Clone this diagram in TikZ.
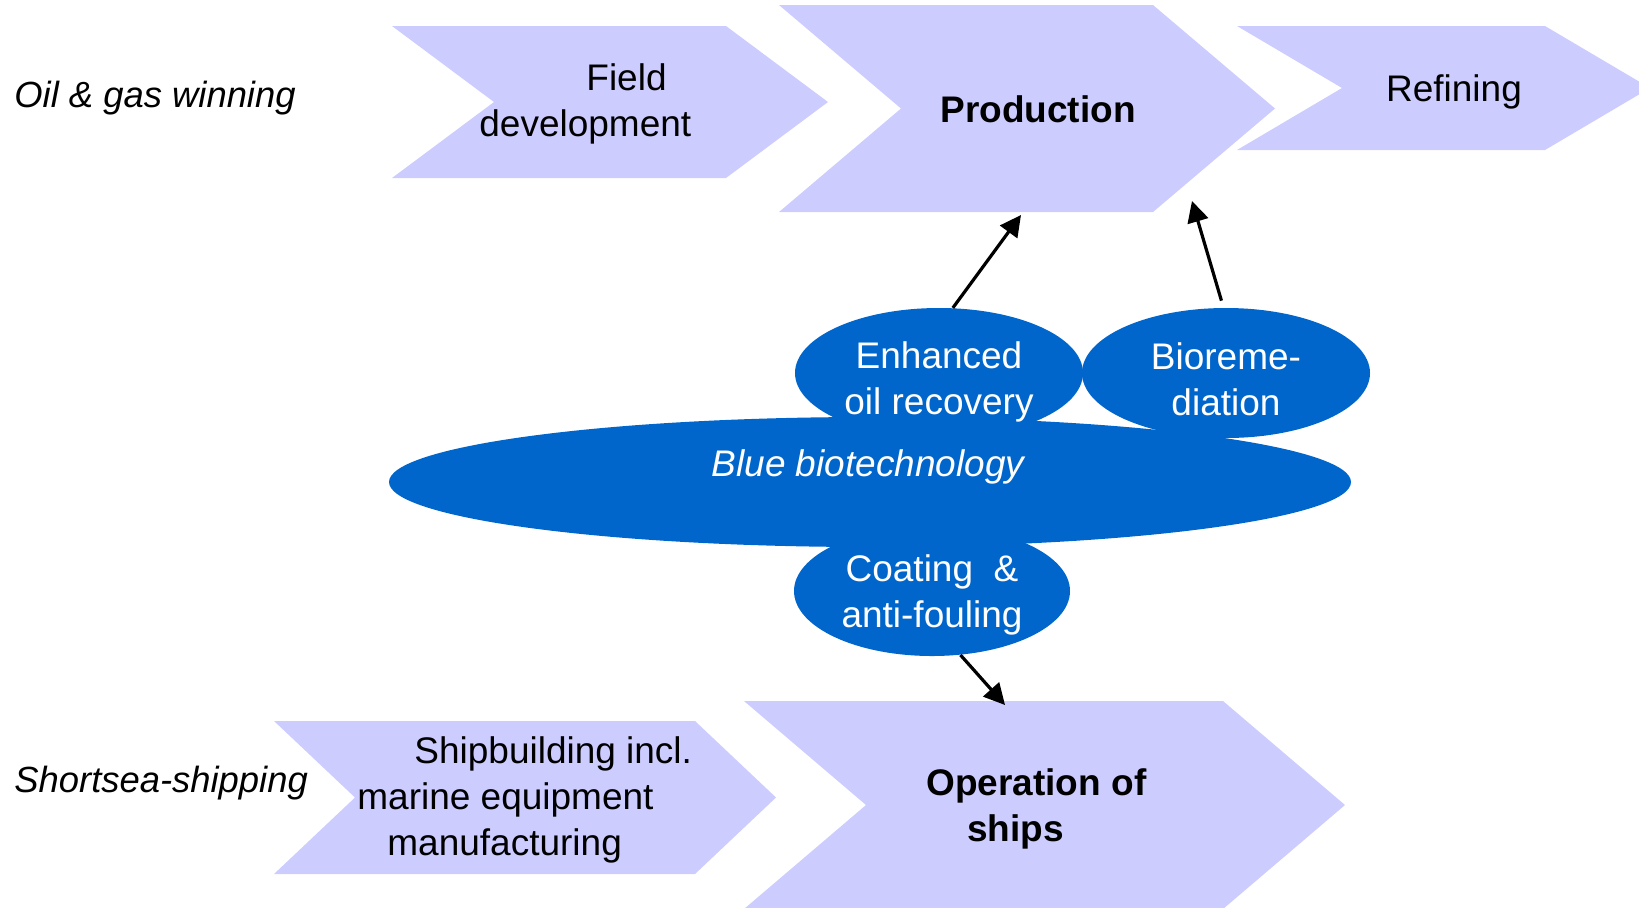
\documentclass[tikz,border=0pt]{standalone}
\usepackage{fontspec}
\setmainfont{Liberation Sans}
\usepackage{xcolor}
\usepackage{tikz}
\usetikzlibrary{shapes.geometric,arrows.meta,positioning}
\definecolor{stagefill}{RGB}{204,204,255}
\definecolor{biofill}{RGB}{0,102,204}
\newcommand\txt[0]{\fontsize{18.5}{23}\selectfont}
\newcommand\slanttxt[0]{\fontsize{18.2}{23}\selectfont\itshape}
\newcommand\chevron[6]{\fill[stage] (#1,#2) -- (#3,#2) -- ({#3+#5},#6) -- (#3,#4) -- (#1,#4) -- ({#1+#5},#6) -- cycle;}

\begin{document}
\begin{tikzpicture}[x=0.5pt,y=-0.5pt,
                    stage/.style={fill=stagefill},
                    lbl/.style={font=\txt, inner sep=0pt},
                    blob/.style={ellipse, fill=biofill, inner sep=0pt},
                    bloblbl/.style={font=\txt, inner sep=0pt, text=white, align=center},
                    flow/.style={-{Triangle[length=10.5pt,width=10.5pt]}, line width=1.6pt}]
                    \useasboundingbox (0,0) rectangle (1639,907);
                    \chevron{392}{26}{726}{178}{102}{102}
                    \chevron{779}{5}{1153}{212}{122}{108.5}
                    \chevron{1237}{26}{1545}{150}{105}{88}
                    \chevron{274}{721}{695}{874}{81}{797.5}
                    \chevron{744}{701}{1223}{909}{122}{805}

                    \node[lbl, font=\slanttxt, anchor=west] (oilgas) at (14,98) {Oil \& gas winning};
                    \node[lbl, anchor=west, align=left] (field) at (479,104) {\hspace*{53.5pt}Field\\development};
                    \node[lbl, font=\txt\bfseries] (prod) at (1038,109) {Production};
                    \node[lbl] (refine) at (1454,92) {Refining};
                    \node[lbl, font=\slanttxt, anchor=west] (shortsea) at (14,783) {Shortsea-shipping};
                    \node[lbl, anchor=west, align=left] (shipbuild) at (357,800) {\hspace*{28.5pt}Shipbuilding incl.\\marine equipment\\\hspace*{15pt}manufacturing};
                    \node[lbl, font=\txt\bfseries, anchor=west, align=left] (operation) at (926,809) {Operation of\\\hspace*{20.5pt}ships};

                    \node[blob, minimum width=481pt, minimum height=65pt] (bluebio) at (870,482) {};
                    \node[blob, minimum width=144pt, minimum height=65pt] (eor) at (939,373) {};
                    \node[blob, minimum width=144pt, minimum height=65pt] (biorem) at (1226,373) {};
                    \node[blob, minimum width=138pt, minimum height=65pt] (coat) at (932,591) {};
                    \node[bloblbl] (eorlbl) at (939,382) {Enhanced\\oil recovery};
                    \node[bloblbl] (bioremlbl) at (1226,379) {Bioreme-\\diation};
                    \node[bloblbl] (coatlbl) at (932,595) {Coating~ \&\\anti-fouling};
                    \node[bloblbl, font=\txt\itshape] (bluelbl) at (868,467) {Blue biotechnology};

                    \coordinate (prodin) at (1021,215);
                    \coordinate (prodside) at (1192,201);
                    \coordinate (opin) at (1005,705);
                    \draw[flow] (eor.78) -- (prodin);
                    \draw[flow] ([yshift=3.5pt]biorem.94) -- (prodside);
                    \draw[flow] (coat.-66) -- (opin);
\end{tikzpicture}
\end{document}
